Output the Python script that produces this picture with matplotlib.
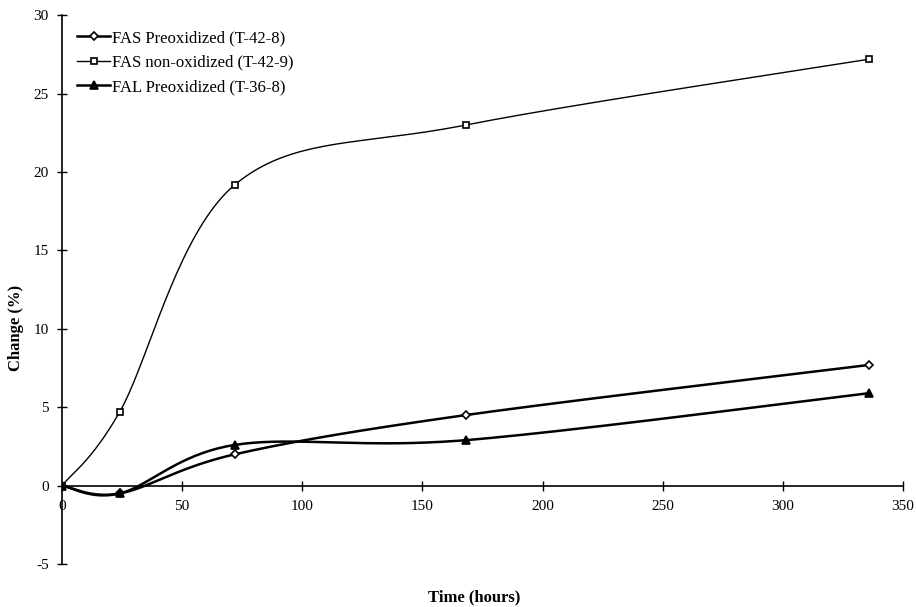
import numpy as np
import matplotlib
matplotlib.use('Agg')
from matplotlib import pyplot as plt

plt.rcParams['font.family'] = ['Liberation Serif', 'DejaVu Serif']
plt.rcParams['axes.unicode_minus'] = False

# data
hours = [0, 24, 72, 168, 336]
fas_pre = [0, -0.5, 2.0, 4.5, 7.7]
fas_non = [0, 4.7, 19.2, 23.0, 27.2]
fal_pre = [0, -0.5, 2.6, 2.9, 5.9]
labels = ['FAS Preoxidized (T-42-8)', 'FAS non-oxidized (T-42-9)', 'FAL Preoxidized (T-36-8)']
xticks = [0, 50, 100, 150, 200, 250, 300, 350]
yticks = [-5, 0, 5, 10, 15, 20, 25, 30]


def smooth(x, y, n=40):
    # spreadsheet-style smoothed line: bezier segments with catmull-rom tangents
    x = np.asarray(x, float)
    y = np.asarray(y, float)
    px = np.concatenate([[x[0]], x, [x[-1]]])
    py = np.concatenate([[y[0]], y, [y[-1]]])
    t = np.linspace(0, 1, n)
    xs, ys = [], []
    for i in range(1, len(px) - 2):
        p0 = np.array([px[i], py[i]])
        p3 = np.array([px[i + 1], py[i + 1]])
        p1 = p0 + (np.array([px[i + 1], py[i + 1]]) - np.array([px[i - 1], py[i - 1]])) / 6
        p2 = p3 - (np.array([px[i + 2], py[i + 2]]) - np.array([px[i], py[i]])) / 6
        b = ((1 - t) ** 3)[:, None] * p0 + (3 * (1 - t) ** 2 * t)[:, None] * p1 \
            + (3 * (1 - t) * t ** 2)[:, None] * p2 + (t ** 3)[:, None] * p3
        xs.extend(b[:, 0])
        ys.extend(b[:, 1])
    return xs, ys


fig = plt.figure(figsize=(9.16, 6.07), dpi=100)
ax = fig.add_axes([0.0677, 0.0708, 0.918, 0.904])

series = [(fas_pre, 'D', 'white', 1.8, 4),
          (fas_non, 's', 'white', 1.0, 5),
          (fal_pre, '^', 'black', 1.8, 6)]
for (vals, mk, mfc, lw, ms), lab in zip(series, labels):
    sx, sy = smooth(hours, vals)
    ax.plot(sx, sy, color='black', lw=lw)
    ax.plot(hours, vals, ls='none', marker=mk, mfc=mfc, mec='black', ms=ms, mew=1.2)
    ax.plot([], [], color='black', lw=lw, marker=mk, mfc=mfc, mec='black', ms=ms, mew=1.2, label=lab)

ax.set_xlim(0, 350)
ax.set_ylim(-5, 30)
ax.set_xticks(xticks)
ax.set_yticks(yticks)
ax.spines['top'].set_visible(False)
ax.spines['right'].set_visible(False)
ax.spines['bottom'].set_position(('data', 0))
ax.spines['left'].set_linewidth(1.2)
ax.spines['bottom'].set_linewidth(1.2)
ax.tick_params(direction='inout', length=7, width=1.0, labelsize=11, pad=6)
ax.tick_params(axis='x', pad=7)

ax.set_xlabel('Time (hours)', fontsize=12, fontweight='bold')
ax.set_ylabel('Change (%)', fontsize=12, fontweight='bold')
ax.xaxis.set_label_coords(0.49, -0.047)
ax.yaxis.set_label_coords(-0.045, 0.43)

ax.legend(loc='upper left', bbox_to_anchor=(0.0, 1.0), frameon=False, fontsize=12,
          handlelength=2.0, handletextpad=0.1, labelspacing=0.5, borderaxespad=0.5)

fig.savefig('out.png', dpi=100)
